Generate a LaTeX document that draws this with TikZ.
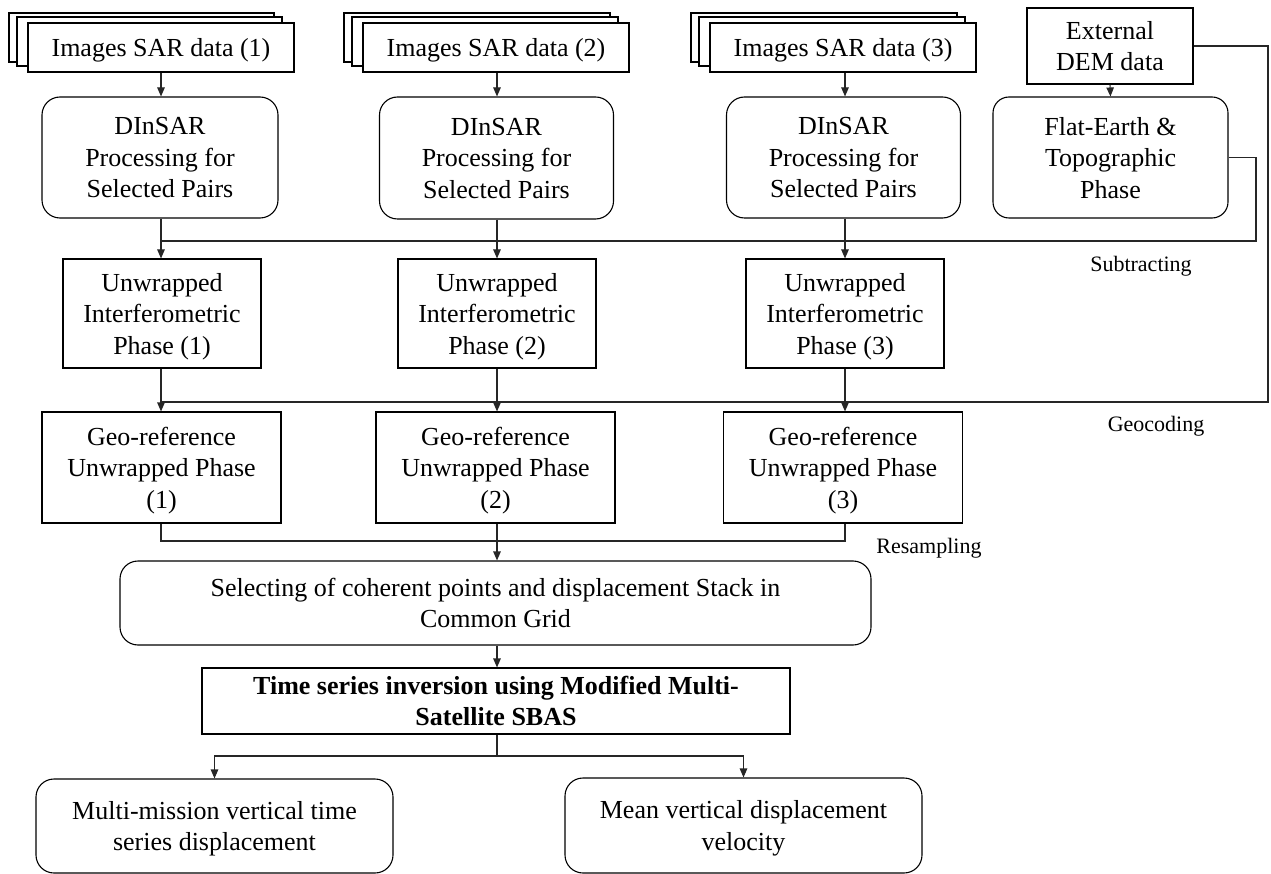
\documentclass[tikz,border=0pt]{standalone}
\usepackage{fontspec}
\setmainfont{Liberation Serif}
\usetikzlibrary{arrows.meta}
\begin{document}
\begin{tikzpicture}[x=1pt,y=-1pt,
  every node/.style={inner sep=0pt, align=center, text depth=0pt, font=\fontsize{26}{31.5}\selectfont},
  sq/.style={draw, line width=1.1pt, fill=white},
  rnd/.style={sq, rounded corners=18pt},
  conn/.style={line width=1.1pt, draw=black!85},
  arr/.style={conn, -{Triangle[length=9pt,width=7.5pt]}},
  lab/.style={font=\fontsize{22}{26}\selectfont}
]
\useasboundingbox (0,0) rectangle (1271,874);
\coordinate (x1) at (161,0);
\coordinate (x2) at (497,0);
\coordinate (x3) at (845,0);

% stacked image boxes
\draw[sq] (9,13) rectangle (274,62);
\draw[sq] (17,17) rectangle (282,66);
\node[sq, minimum width=266pt, minimum height=49pt] (s1) at (161,47.5) {Images SAR data (1)};
\draw[sq] (344,13) rectangle (610,62);
\draw[sq] (352,17) rectangle (618,66);
\node[sq, minimum width=266pt, minimum height=49pt] (s2) at (496,47.5) {Images SAR data (2)};
\draw[sq] (691,13) rectangle (957,62);
\draw[sq] (699,17) rectangle (965,66);
\node[sq, minimum width=266pt, minimum height=49pt] (s3) at (843,47.5) {Images SAR data (3)};

% DInSAR
\node[rnd, minimum width=236pt, minimum height=121pt] (d1) at (160,157.5) {DInSAR\\Processing for\\Selected Pairs};
\node[rnd, minimum width=234pt, minimum height=122pt] (d2) at (496.5,158) {DInSAR\\Processing for\\Selected Pairs};
\node[rnd, minimum width=234pt, minimum height=121pt] (d3) at (843.5,157.5) {DInSAR\\Processing for\\Selected Pairs};

% DEM
\node[sq, minimum width=166pt, minimum height=76pt] (dem) at (1110,46) {External\\DEM data};
\node[rnd, rounded corners=16pt, minimum width=235pt, minimum height=121pt] (fe) at (1110.5,157.5) {Flat-Earth \&\\Topographic\\Phase};

% Unwrapped
\node[sq, minimum width=198pt, minimum height=109pt] (u1) at (162,313.5) {Unwrapped\\Interferometric\\Phase (1)};
\node[sq, minimum width=198pt, minimum height=109pt] (u2) at (497,313.5) {Unwrapped\\Interferometric\\Phase (2)};
\node[sq, minimum width=198pt, minimum height=109pt] (u3) at (845,313.5) {Unwrapped\\Interferometric\\Phase (3)};

% Geo-reference
\node[sq, minimum width=239pt, minimum height=111pt] (g1) at (161.5,467.5) {Geo-reference\\Unwrapped Phase\\(1)};
\node[sq, minimum width=239pt, minimum height=111pt] (g2) at (495.5,467.5) {Geo-reference\\Unwrapped Phase\\(2)};
\node[sq, minimum width=239pt, minimum height=111pt] (g3) at (843,467.5) {Geo-reference\\Unwrapped Phase\\(3)};

% Selecting, time series
\node[rnd, minimum width=751pt, minimum height=84pt] (sel) at (495.5,603) {Selecting of coherent points and displacement Stack in\\Common Grid};
\node[sq, minimum width=588pt, minimum height=66pt, font=\bfseries\fontsize{26}{31.5}\selectfont] (ts) at (496,701) {Time series inversion using Modified Multi-\\Satellite SBAS};

% outputs
\node[rnd, minimum width=357pt, minimum height=94pt] (o1) at (214.5,826) {Multi-mission vertical time\\series displacement};
\node[rnd, minimum width=357pt, minimum height=95pt] (o2) at (743.5,825.5) {Mean vertical displacement\\velocity};

% labels
\node[lab] (lsub) at (1141,264) {Subtracting};
\node[lab] (lgeo) at (1156,424) {Geocoding};
\node[lab] (lres) at (929,546) {Resampling};

% connectors
\coordinate (sub) at (1256,241);
\coordinate (geo) at (1268,402);
\coordinate (res) at (0,541);
\coordinate (out) at (0,756);

\draw[arr] (s1.south -| x1) -- (d1.north -| x1);
\draw[arr] (s2.south -| x2) -- (d2.north -| x2);
\draw[arr] (s3.south -| x3) -- (d3.north -| x3);
\draw[arr] (dem.south) -- (fe.north);

\draw[conn] (fe.east) -| (sub) -- (x1 |- sub);
\draw[conn] (dem.east) -| (geo) -- (x1 |- geo);

\draw[arr] (d1.south -| x1) -- (u1.north -| x1);
\draw[arr] (d2.south -| x2) -- (u2.north -| x2);
\draw[arr] (d3.south -| x3) -- (u3.north -| x3);

\draw[arr] (u1.south -| x1) -- (g1.north -| x1);
\draw[arr] (u2.south -| x2) -- (g2.north -| x2);
\draw[arr] (u3.south -| x3) -- (g3.north -| x3);

\draw[conn] (g1.south -| x1) -- (x1 |- res) -- (x3 |- res) -- (g3.south -| x3);
\draw[arr] (g2.south -| x2) -- (sel.north -| x2);
\draw[arr] (sel.south -| x2) -- (ts.north -| x2);

\draw[conn] (ts.south -| x2) -- (x2 |- out);
\draw[arr] (x2 |- out) -| (o1.north);
\draw[arr] (x2 |- out) -| (o2.north);
\end{tikzpicture}
\end{document}
